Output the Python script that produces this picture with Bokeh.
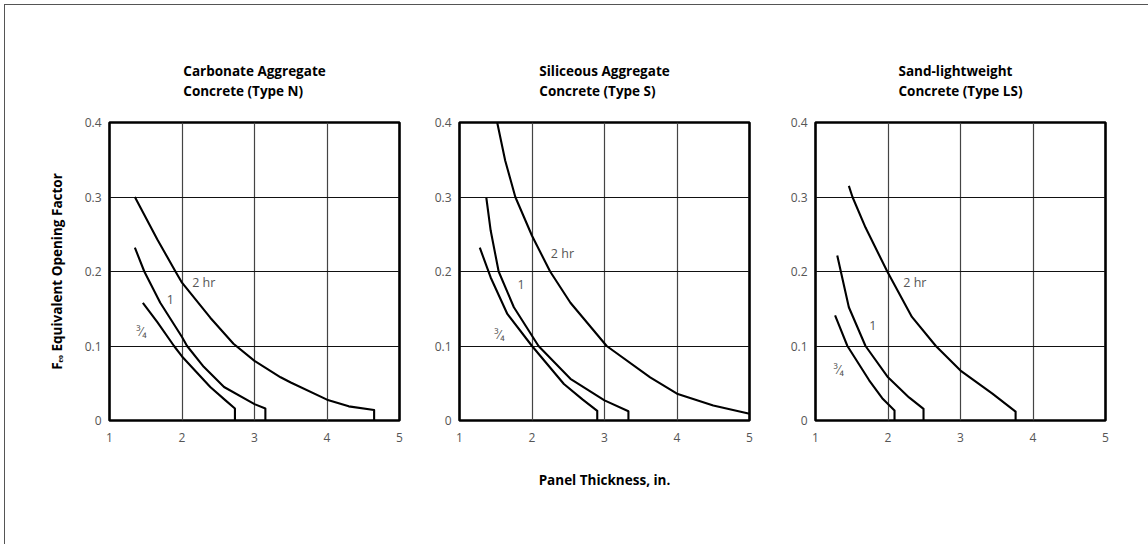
from bokeh.plotting import figure
from bokeh.models import Range1d, FixedTicker, Title, ColumnDataSource
from bokeh.layouts import row
from bokeh.core.properties import value
from bokeh.embed import file_html
from bokeh.resources import INLINE

# ---------------- data ----------------
X_TICKS = [1, 2, 3, 4, 5]
Y_TICKS = [0, 0.1, 0.2, 0.3, 0.4]
Y_TICK_LABELS = ["0", "0.1", "0.2", "0.3", "0.4"]
X_GRID = [2, 3, 4]
Y_GRID = [0.1, 0.2, 0.3]

TITLES = [
    ["Carbonate Aggregate", "Concrete (Type N)"],
    ["Siliceous Aggregate", "Concrete (Type S)"],
    ["Sand-lightweight", "Concrete (Type LS)"],
]
X_LABEL = "Panel Thickness, in."
Y_LABEL = "F\u2091\u2092 Equivalent Opening Factor"
CURVE_LABELS = ["\u00b3\u2044\u2084", "1", "2 hr"]

# Type N (carbonate)
n_34_x = [1.46, 1.66, 1.89, 2.00, 2.39, 2.60, 2.73, 2.73]
n_34_y = [0.158, 0.132, 0.100, 0.086, 0.045, 0.027, 0.016, 0.0]
n_1_x = [1.35, 1.48, 1.70, 2.00, 2.07, 2.30, 2.58, 3.00, 3.15, 3.15]
n_1_y = [0.232, 0.200, 0.158, 0.112, 0.100, 0.072, 0.045, 0.022, 0.016, 0.0]
n_2_x = [1.35, 1.66, 1.91, 2.00, 2.39, 2.71, 3.00, 3.36, 3.50, 4.00, 4.30, 4.65, 4.65]
n_2_y = [0.300, 0.243, 0.200, 0.185, 0.138, 0.103, 0.080, 0.058, 0.051, 0.028, 0.019, 0.014, 0.0]
n_lab_x = [1.44, 1.84, 2.30]
n_lab_y = [0.1195, 0.162, 0.1857]

# Type S (siliceous)
s_34_x = [1.28, 1.43, 1.66, 2.00, 2.44, 2.70, 2.90, 2.90]
s_34_y = [0.232, 0.192, 0.143, 0.100, 0.049, 0.028, 0.013, 0.0]
s_1_x = [1.37, 1.43, 1.54, 1.75, 2.09, 2.53, 3.00, 3.33, 3.33]
s_1_y = [0.299, 0.255, 0.200, 0.152, 0.100, 0.056, 0.027, 0.0125, 0.0]
s_2_x = [1.52, 1.63, 1.77, 2.00, 2.25, 2.53, 3.03, 3.63, 4.00, 4.50, 5.00]
s_2_y = [0.400, 0.349, 0.300, 0.248, 0.200, 0.158, 0.100, 0.058, 0.036, 0.020, 0.009]
s_lab_x = [1.55, 1.85, 2.42]
s_lab_y = [0.116, 0.1826, 0.2246]

# Type LS (sand-lightweight)
ls_34_x = [1.27, 1.44, 1.74, 1.92, 2.09, 2.09]
ls_34_y = [0.141, 0.100, 0.054, 0.030, 0.0134, 0.0]
ls_1_x = [1.30, 1.46, 1.69, 2.00, 2.29, 2.49, 2.49]
ls_1_y = [0.2215, 0.152, 0.100, 0.058, 0.031, 0.0157, 0.0]
ls_2_x = [1.46, 1.51, 1.69, 1.99, 2.33, 2.66, 3.00, 3.44, 3.76, 3.76]
ls_2_y = [0.315, 0.300, 0.259, 0.200, 0.139, 0.100, 0.067, 0.036, 0.012, 0.0]
ls_lab_x = [1.32, 1.79, 2.37]
ls_lab_y = [0.069, 0.1275, 0.1857]

PANELS = [
    dict(curves=[(n_34_x, n_34_y), (n_1_x, n_1_y), (n_2_x, n_2_y)], lx=n_lab_x, ly=n_lab_y),
    dict(curves=[(s_34_x, s_34_y), (s_1_x, s_1_y), (s_2_x, s_2_y)], lx=s_lab_x, ly=s_lab_y),
    dict(curves=[(ls_34_x, ls_34_y), (ls_1_x, ls_1_y), (ls_2_x, ls_2_y)], lx=ls_lab_x, ly=ls_lab_y),
]

# ---------------- layout ----------------
FONT = "Open Sans"
TICK_COLOR = "#555555"
LABEL_COLOR = "#555555"
H = 539
TOP = 117
FRAME_H = 298
BORDERS = [(104, 20, 414), (40, 20, 350), (46, 43, 379)]  # left, right, width

figs = []
for i, panel in enumerate(PANELS):
    bl, br, w = BORDERS[i]
    p = figure(width=w, height=H, x_range=Range1d(1, 5), y_range=Range1d(0, 0.4),
               output_backend="svg", toolbar_location=None, tools="", title=None,
               min_border_left=bl, min_border_right=br,
               min_border_top=TOP, min_border_bottom=H - TOP - FRAME_H)
    p.outline_line_color = "black"
    p.outline_line_width = 2.6
    p.background_fill_color = "white"
    p.border_fill_color = "white"

    p.xaxis.ticker = FixedTicker(ticks=X_TICKS)
    p.yaxis.ticker = FixedTicker(ticks=Y_TICKS)
    p.yaxis.major_label_overrides = {t: s for t, s in zip(Y_TICKS, Y_TICK_LABELS)}
    for ax in (p.xaxis, p.yaxis):
        ax.axis_line_color = None
        ax.major_tick_line_color = None
        ax.minor_tick_line_color = None
        ax.major_tick_out = 0
        ax.major_tick_in = 0
        ax.major_label_text_font = FONT
        ax.major_label_text_font_size = "12px"
        ax.major_label_text_color = TICK_COLOR
        ax.axis_label_text_font = FONT
        ax.axis_label_text_font_size = "13.5px"
        ax.axis_label_text_font_style = "bold"
        ax.axis_label_text_color = "black"
    p.xaxis.major_label_standoff = 12
    p.yaxis.major_label_standoff = 8

    p.xgrid.ticker = FixedTicker(ticks=X_GRID)
    p.ygrid.ticker = FixedTicker(ticks=Y_GRID)
    p.xgrid.grid_line_color = "#444444"
    p.xgrid.grid_line_width = 1.2
    p.ygrid.grid_line_color = "#111111"
    p.ygrid.grid_line_width = 1

    for cx, cy in panel["curves"]:
        p.line(cx, cy, line_color="black", line_width=2.1, line_join="round")

    src = ColumnDataSource(dict(x=panel["lx"], y=panel["ly"], t=CURVE_LABELS))
    p.text(x="x", y="y", text="t", source=src, text_align="center", text_baseline="middle",
           text_font=value(FONT), text_font_size="12.5px", text_color=LABEL_COLOR)

    # two-line panel title
    p.add_layout(Title(text="\n".join(TITLES[i]), align="center", text_font=FONT,
                       text_font_size="13.5px", text_font_style="bold", text_color="black",
                       text_line_height=1.12, standoff=45), "above")
    figs.append(p)

figs[0].yaxis.axis_label = Y_LABEL
figs[0].yaxis.axis_label_standoff = 16
figs[1].xaxis.axis_label = X_LABEL
figs[1].xaxis.axis_label_standoff = 26

layout = row(*figs, margin=(4, 0, 0, 4),
             styles={"border-top": "1px solid #555555", "border-left": "1px solid #555555"})

open("out.html", "w").write(file_html(layout, INLINE))
